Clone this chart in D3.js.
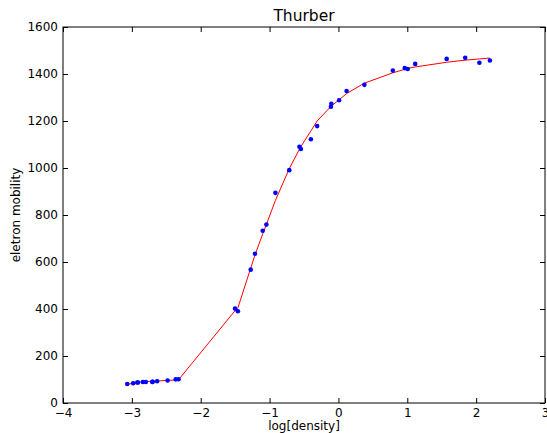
<!DOCTYPE html>
<html><head><meta charset="utf-8">
<script src="https://cdn.jsdelivr.net/npm/d3@7"></script>
<style>body{margin:0;background:#fff}svg{display:block}text{font-family:"DejaVu Sans",sans-serif;fill:#000}</style>
</head><body>
<script>
const xData = [-3.067,-2.981,-2.921,-2.912,-2.840,-2.797,-2.702,-2.699,-2.633,-2.481,-2.363,-2.322,-1.501,-1.460,-1.274,-1.212,-1.100,-1.046,-0.915,-0.714,-0.566,-0.545,-0.400,-0.309,-0.109,-0.103,0.010,0.119,0.377,0.790,0.963,1.006,1.115,1.572,1.841,2.047,2.200];
const yData = [80.574,84.248,87.264,87.195,89.076,89.608,89.868,90.101,92.405,95.854,100.696,101.060,401.672,390.724,567.534,635.316,733.054,759.087,894.206,990.785,1090.109,1080.914,1122.643,1178.351,1260.531,1273.514,1288.339,1327.543,1353.863,1414.509,1425.208,1421.384,1442.962,1464.350,1468.705,1447.894,1457.628];
const yFit = [79,84,87,87.5,90,91,93,93,94,96,98,99,393,405,574,630,719,760,862,997,1080,1091,1158,1200,1262,1264,1290,1317,1361,1405,1420,1424,1430,1450,1459,1464,1468];
const xTicks = [-4,-3,-2,-1,0,1,2,3];
const yTicks = [0,200,400,600,800,1000,1200,1400,1600];

const W=547,H=433, L=63, R=545, T=27, B=403;
const svg=d3.select("body").append("svg").attr("width",W).attr("height",H);
const x=d3.scaleLinear().domain([-4,3]).range([L,R]);
const y=d3.scaleLinear().domain([0,1600]).range([B,T]);
const fmt=d=>String(d).replace("-","\u2212");

svg.append("clipPath").attr("id","c").append("rect").attr("x",L).attr("y",T).attr("width",R-L).attr("height",B-T);
const g=svg.append("g").attr("clip-path","url(#c)");
g.append("path").datum(xData.map((d,i)=>[d,yFit[i]]))
 .attr("d",d3.line().x(d=>x(d[0])).y(d=>y(d[1])))
 .attr("fill","none").attr("stroke","#ff0000").attr("stroke-width",1);
g.selectAll("circle").data(xData).join("circle")
 .attr("cx",d=>x(d)).attr("cy",(d,i)=>y(yData[i])).attr("r",2.3).attr("fill","#0000ff");

const tk=5;
const axB=svg.append("g").attr("transform",`translate(0,${B})`).call(d3.axisBottom(x).tickValues(xTicks).tickSizeInner(-tk).tickSizeOuter(0).tickPadding(5).tickFormat(fmt));
const axT=svg.append("g").attr("transform",`translate(0,${T})`).call(d3.axisTop(x).tickValues(xTicks).tickSizeInner(-tk).tickSizeOuter(0).tickFormat(""));
const axL=svg.append("g").attr("transform",`translate(${L},0)`).call(d3.axisLeft(y).tickValues(yTicks).tickSizeInner(-tk).tickSizeOuter(0).tickPadding(5).tickFormat(fmt));
const axR=svg.append("g").attr("transform",`translate(${R},0)`).call(d3.axisRight(y).tickValues(yTicks).tickSizeInner(-tk).tickSizeOuter(0).tickFormat(""));
[axB,axT,axL,axR].forEach(a=>{a.select(".domain").remove();a.selectAll("text").attr("font-size",12).attr("font-family","DejaVu Sans").attr("fill","#000");a.selectAll("line").attr("stroke","#000");});
svg.append("rect").attr("x",L).attr("y",T).attr("width",R-L).attr("height",B-T).attr("fill","none").attr("stroke","#000").attr("stroke-width",1);

svg.append("text").attr("x",(L+R)/2).attr("y",20.7).attr("text-anchor","middle").attr("font-size",15.5).text("Thurber");
svg.append("text").attr("x",(L+R)/2).attr("y",430).attr("text-anchor","middle").attr("font-size",12).text("log[density]");
svg.append("text").attr("transform",`translate(20,${(T+B)/2}) rotate(-90)`).attr("text-anchor","middle").attr("font-size",12).text("eletron mobility");
</script>
</body></html>
